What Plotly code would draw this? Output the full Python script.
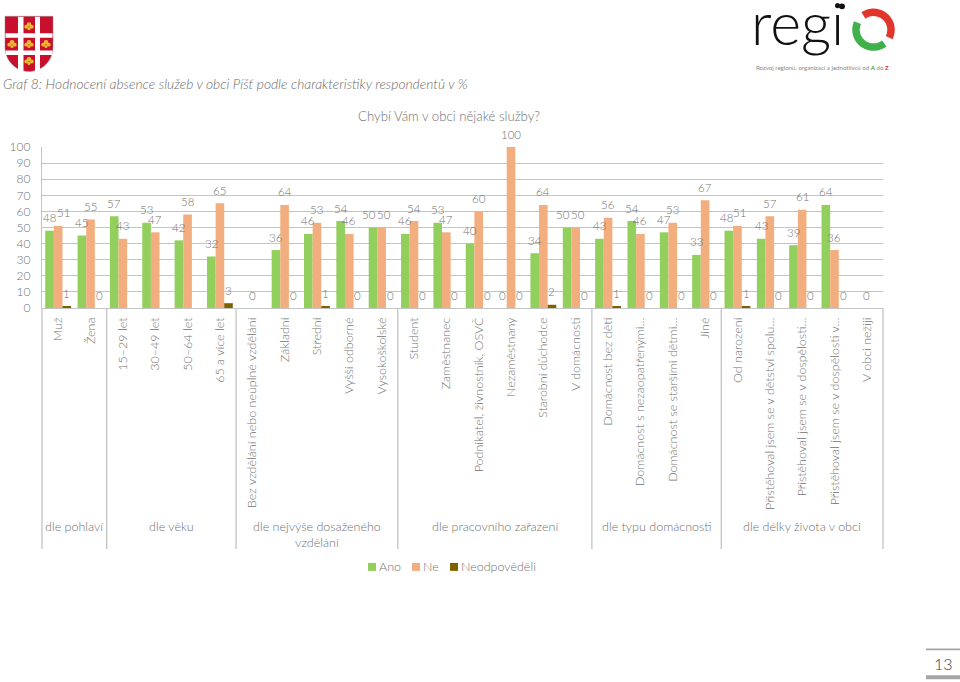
import math
import plotly.graph_objects as go

categories = ["Muž", "Žena", "15–29 let", "30–49 let", "50–64 let", "65 a více let",
              "Bez vzdělání nebo neúplné vzdělání", "Základní", "Střední", "Vyšší odborné", "Vysokoškolské",
              "Student", "Zaměstnanec", "Podnikatel, živnostník, OSVČ", "Nezaměstnaný", "Starobní důchodce",
              "V domácnosti", "Domácnost bez dětí", "Domácnost s nezaopatřenými…", "Domácnost se staršími dětmi…",
              "Jiné", "Od narození", "Přistěhoval jsem se v dětství spolu…", "Přistěhoval jsem se v dospělosti…",
              "Přistěhoval jsem se v dospělosti v…", "V obci nežiji"]
ano = [48, 45, 57, 53, 42, 32, None, 36, 46, 54, 50, 46, 53, 40, 0, 34, 50, 43, 54, 47, 33, 48, 43, 39, 64, None]
ne = [51, 55, 43, 47, 58, 65, 0, 64, 53, 46, 50, 54, 47, 60, 100, 64, 50, 56, 46, 53, 67, 51, 57, 61, 36, 0]
neodp = [1, 0, None, None, None, 3, None, 0, 1, 0, 0, 0, 0, 0, 0, 2, 0, 1, 0, 0, 0, 1, 0, 0, 0, None]
series_names = ["Ano", "Ne", "Neodpověděli"]
series_colors = ["#92CF5C", "#F2AE7E", "#7F6000"]
groups = ["dle pohlaví", "dle věku", "dle nejvýše dosaženého<br>vzdělání", "dle pracovního zařazení",
          "dle typu domácnosti", "dle délky života v obci"]
group_edges = [0, 2, 6, 11, 17, 21, 26]
label_nudges = {(0, 1): 5, (10, 0): -4, (10, 1): 2, (16, 0): -4, (16, 1): 2, (21, 0): -2, (21, 1): 2}

L, R, T, B = 42, 883, 146.5, 308.5
FONT = "Lato"
GREY = "#717171"
LINE = "#C4C4C4"
W = 300


def px(x):
    return (x - L) / (R - L)


def py(y):
    return 1 - (y - T) / (B - T)


xs = list(range(len(categories)))
barw = 0.8 / 3
fig = go.Figure()
for vals, name, col in zip([ano, ne, neodp], series_names, series_colors):
    fig.add_bar(x=xs, y=vals, name=name, marker_color=col, marker_line_width=0, width=barw, showlegend=False)

ann = []
for s, vals in enumerate([ano, ne, neodp]):
    for i, v in enumerate(vals):
        if v is None:
            continue
        ann.append(dict(x=i + (s - 1) * barw, y=v, xref="x", yref="y", text=str(v), showarrow=False,
                        xanchor="center", yanchor="middle", yshift=13, xshift=label_nudges.get((i, s), 0),
                        font=dict(family=FONT, size=11.5, color=GREY, weight=W)))

shapes = []
for e in group_edges:
    shapes.append(dict(type="line", xref="paper", yref="paper", x0=px(L + (R - L) * e / 26), x1=px(L + (R - L) * e / 26),
                       y0=py(B), y1=py(551), line=dict(color=LINE, width=1.3)))
for a, b, g in zip(group_edges[:-1], group_edges[1:], groups):
    ann.append(dict(x=(a + b) / 2 - 0.5, y=py(519), xref="x", yref="paper", text=g, showarrow=False,
                    xanchor="center", yanchor="top", font=dict(family=FONT, size=12.5, color=GREY, weight=W)))

# title, caption, page number
ann.append(dict(x=px(449), y=py(115), xref="paper", yref="paper", text="Chybí Vám v obci nějaké služby?", showarrow=False,
                xanchor="center", yanchor="middle", font=dict(family=FONT, size=13.2, color=GREY, weight=W)))
ann.append(dict(x=px(1), y=py(83), xref="paper", yref="paper", xanchor="left", yanchor="middle", showarrow=False,
                text="<i>Graf 8: Hodnocení absence služeb v obci Píšť podle charakteristiky respondentů v %</i>",
                font=dict(family=FONT, size=13.8, color="#6a6a6a", weight=W)))
ann.append(dict(x=px(943), y=py(666), xref="paper", yref="paper", text="13", showarrow=False, xanchor="center",
                yanchor="middle", font=dict(family=FONT, size=16, color="#404040", weight=W)))
shapes.append(dict(type="rect", xref="paper", yref="paper", x0=px(926), x1=px(960), y0=py(651), y1=py(653),
                   fillcolor="#A6A6A6", line_width=0))
shapes.append(dict(type="rect", xref="paper", yref="paper", x0=px(926), x1=px(960), y0=py(678), y1=py(682),
                   fillcolor="#A6A6A6", line_width=0))

# legend
for sx, tx, name, col in zip([368, 412, 450], [377, 421, 459], series_names, series_colors):
    shapes.append(dict(type="rect", xref="paper", yref="paper", x0=px(sx), x1=px(sx + 8), y0=py(565), y1=py(573),
                       fillcolor=col, line_width=0))
    ann.append(dict(x=px(tx), y=py(569), xref="paper", yref="paper", text=name, showarrow=False, xanchor="left",
                    yanchor="middle", font=dict(family=FONT, size=12.5, color=GREY, weight=W)))


def poly(points, **kw):
    d = "M " + " L ".join(f"{px(x):.5f} {py(y):.5f}" for x, y in points)
    return dict(type="path", xref="paper", yref="paper", path=d, **kw)


def dot(cx, cy, r, col, **kw):
    return dict(type="circle", xref="paper", yref="paper", x0=px(cx - r), x1=px(cx + r), y0=py(cy - r), y1=py(cy + r),
                fillcolor=col, line_width=0, layer="above", **kw)


# coat of arms
shield = [(5, 15), (53, 15), (53, 46)] + [(29 + 24 * math.cos(a / 10), 46 + 24.5 * math.sin(a / 10)) for a in range(0, 32)] + [(5, 46)]
sd = poly(shield, fillcolor="#C8102E", line=dict(color="#8a8a8a", width=0.5))
sd["path"] += " Z"
shapes.append(sd)
for x0, x1 in [(18, 23.5), (35, 40)]:
    shapes.append(dict(type="rect", xref="paper", yref="paper", x0=px(x0), x1=px(x1), y0=py(15.5), y1=py(70),
                       fillcolor="#FFFFFF", line_width=0, layer="above"))
for y0, y1 in [(32, 36.5), (49.5, 54)]:
    shapes.append(dict(type="rect", xref="paper", yref="paper", x0=px(5.5), x1=px(52.5), y0=py(y0), y1=py(y1),
                       fillcolor="#FFFFFF", line_width=0, layer="above"))
for cx, cy in [(29, 25), (12, 43), (29, 43), (46, 43), (29, 60)]:
    shapes.append(dot(cx, cy - 1.8, 2.3, "#E8B92E"))
    shapes.append(dot(cx - 2.7, cy + 0.5, 2.0, "#E8B92E"))
    shapes.append(dot(cx + 2.7, cy + 0.5, 2.0, "#E8B92E"))
    shapes.append(dot(cx, cy + 2.4, 1.6, "#E8B92E"))

# regio logo
ann.append(dict(x=px(749), y=py(21), xref="paper", yref="paper", text="regi", showarrow=False, xanchor="left",
                yanchor="middle", font=dict(family=FONT, size=59, color="#111111", weight=300)))
ann.append(dict(x=px(754), y=py(67), xref="paper", yref="paper", showarrow=False, xanchor="left", yanchor="middle",
                text="Rozvoj regionů, organizací a jednotlivců od <b><span style='color:#3aa63a'>A</span></b> do "
                     "<b><span style='color:#d8342a'>Z</span></b>",
                font=dict(family=FONT, size=6.1, color="#8a8a8a")))
cx, cy, r = 873.5, 28.5, 17.5
green = [(cx + r * math.cos(math.radians(a)), cy + r * math.sin(math.radians(a))) for a in range(52, 206, 4)]
red = [(cx + r * math.cos(math.radians(a)), cy + r * math.sin(math.radians(a))) for a in range(-125, 28, 4)]
shapes.append(poly(green, line=dict(color="#3FB04A", width=7.5)))
shapes.append(poly(red, line=dict(color="#E2352B", width=7.5)))
shapes.append(dict(type="circle", xref="paper", yref="paper", x0=px(839), x1=px(845), y0=py(2), y1=py(8),
                   fillcolor="#111111", line_width=0))

fig.update_layout(
    width=960, height=682, autosize=False,
    margin=dict(l=L, r=960 - R, t=T, b=682 - B, autoexpand=False),
    paper_bgcolor="white", plot_bgcolor="white",
    barmode="group", bargap=0.2, bargroupgap=0,
    font=dict(family=FONT, size=13, color=GREY),
    annotations=ann, shapes=shapes,
    xaxis=dict(range=[-0.5, 25.5], tickmode="array", tickvals=xs, ticktext=categories, tickangle=-90,
               showgrid=False, zeroline=False, showline=False, ticks="", ticklabelstandoff=6, automargin=False,
               tickfont=dict(family=FONT, size=12.5, color=GREY, weight=W)),
    yaxis=dict(range=[0, 100], tickvals=list(range(0, 101, 10)), showgrid=True, gridcolor=LINE, gridwidth=1.3,
               zeroline=True, zerolinecolor=LINE, zerolinewidth=1.3, showline=True, linecolor=LINE, linewidth=1.3,
               ticks="", ticklabelstandoff=8, automargin=False, tickfont=dict(family=FONT, size=12, color=GREY, weight=W)),
)
fig.write_html("out.html", config={"displayModeBar": False}, post_script="document.body.style.margin='0';")
